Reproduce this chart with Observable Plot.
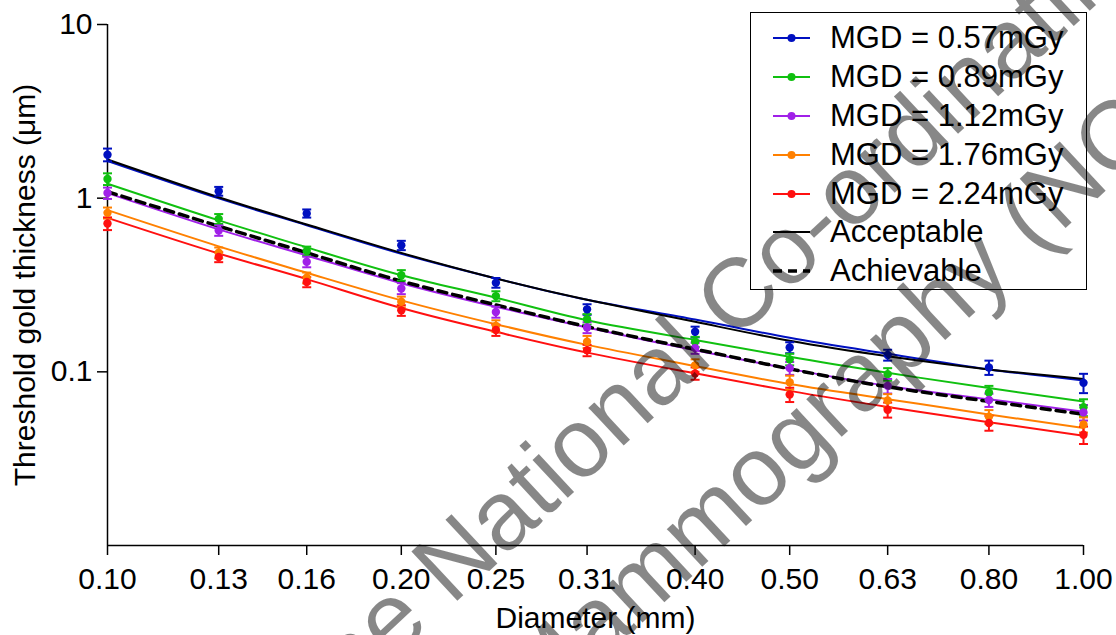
<!DOCTYPE html>
<html>
<head>
<meta charset="utf-8">
<script src="https://cdn.jsdelivr.net/npm/d3@7"></script>
<script src="https://cdn.jsdelivr.net/npm/@observablehq/plot@0.6"></script>
<style>
  body { margin: 0; background: #fff; }
  #wrap { position: relative; width: 1116px; height: 635px; font-family: "Liberation Sans", Arial, sans-serif; }
  #legend { position: absolute; left: 750px; top: 12px; width: 337px; height: 278px; box-sizing: border-box;
            border: 1.5px solid #000; padding-top: 6px; }
  .row { height: 38.8px; display: flex; align-items: center; font-size: 31px; color: #000; }
  .row svg { margin-left: 22px; margin-right: 20px; flex: none; }
  #wm { position: absolute; left: 0; top: 0; pointer-events: none; }
</style>
</head>
<body>
<div id="wrap"></div>
<script>
// ---- data ----
const diameters = [0.10, 0.13, 0.16, 0.20, 0.25, 0.31, 0.40, 0.50, 0.63, 0.80, 1.00];
const yTicks = [10, 1, 0.1];

const seriesNames = ["MGD = 0.57mGy", "MGD = 0.89mGy", "MGD = 1.12mGy", "MGD = 1.76mGy", "MGD = 2.24mGy"];
const seriesColors = ["#0010c0", "#10c010", "#a020e8", "#ff8000", "#ff1010"];

// measured threshold thickness (points)
const pts057 = [1.78, 1.097, 0.817, 0.535, 0.326, 0.229, 0.170, 0.138, 0.125, 0.106, 0.0864];
const pts089 = [1.29, 0.760, 0.496, 0.360, 0.273, 0.201, 0.149, 0.118, 0.097, 0.076, 0.0625];
const pts112 = [1.07, 0.652, 0.430, 0.302, 0.221, 0.180, 0.137, 0.105, 0.083, 0.0688, 0.0584];
const pts176 = [0.823, 0.485, 0.348, 0.253, 0.184, 0.149, 0.109, 0.087, 0.0684, 0.0552, 0.0497];
const pts224 = [0.715, 0.458, 0.329, 0.226, 0.174, 0.133, 0.098, 0.074, 0.0605, 0.0508, 0.0434];

// error bar half-widths
const err057 = [0.15, 0.064, 0.044, 0.033, 0.021, 0.016, 0.012, 0.010, 0.009, 0.010, 0.011];
const err089 = [0.10, 0.050, 0.030, 0.025, 0.018, 0.014, 0.010, 0.009, 0.008, 0.007, 0.007];
const err112 = [0.08, 0.045, 0.030, 0.022, 0.016, 0.013, 0.010, 0.009, 0.008, 0.006, 0.006];
const err176 = [0.06, 0.035, 0.025, 0.018, 0.014, 0.012, 0.009, 0.008, 0.006, 0.005, 0.005];
const err224 = [0.06, 0.030, 0.022, 0.016, 0.013, 0.010, 0.008, 0.007, 0.006, 0.005, 0.005];

// fitted curves
const fit057 = [1.637, 0.997, 0.699, 0.479, 0.345, 0.260, 0.200, 0.157, 0.127, 0.1033, 0.0892];
const fit089 = [1.21, 0.745, 0.521, 0.360, 0.267, 0.198, 0.1527, 0.122, 0.0987, 0.0806, 0.0674];
const fit112 = [1.07, 0.661, 0.468, 0.324, 0.237, 0.180, 0.133, 0.104, 0.083, 0.0695, 0.0589];
const fit176 = [0.853, 0.528, 0.372, 0.258, 0.188, 0.143, 0.108, 0.085, 0.0696, 0.0568, 0.0475];
const fit224 = [0.77, 0.480, 0.342, 0.233, 0.170, 0.129, 0.098, 0.0777, 0.0628, 0.0513, 0.0429];

const acceptable = [1.67, 1.012, 0.706, 0.484, 0.345, 0.260, 0.194, 0.151, 0.123, 0.1033, 0.091];
const achievable = [1.09, 0.690, 0.485, 0.333, 0.243, 0.182, 0.135, 0.104, 0.082, 0.0676, 0.0570];

// ---- tables built from the arrays ----
const ptsAll = [pts057, pts089, pts112, pts176, pts224];
const errAll = [err057, err089, err112, err176, err224];
const fitAll = [fit057, fit089, fit112, fit176, fit224];

const points = [];
const fits = [];
seriesNames.forEach((s, i) => {
  diameters.forEach((d, j) => {
    points.push({series: s, x: d, y: ptsAll[i][j], lo: ptsAll[i][j] - errAll[i][j], hi: ptsAll[i][j] + errAll[i][j]});
    fits.push({series: s, x: d, y: fitAll[i][j]});
  });
});
const accRows = diameters.map((d, j) => ({x: d, y: acceptable[j]}));
const achRows = diameters.map((d, j) => ({x: d, y: achievable[j]}));

const capSymbol = { draw(ctx) { ctx.moveTo(-4.5, 0); ctx.lineTo(4.5, 0); } };

const chart = Plot.plot({
  width: 1116, height: 635,
  marginLeft: 107, marginRight: 33, marginTop: 24, marginBottom: 90,
  style: { fontFamily: "Liberation Sans, Arial, sans-serif", fontSize: "30px", color: "#000", background: "#fff", overflow: "visible" },
  x: { type: "log", domain: [0.1, 1] },
  y: { type: "log", domain: [0.01, 10] },
  color: { domain: seriesNames, range: seriesColors },
  marks: [
    Plot.axisX({ ticks: diameters, tickFormat: d3.format(".2f"), tickSize: 10, tickPadding: 12, strokeWidth: 1.5,
                 label: "Diameter (mm)", labelAnchor: "center", labelOffset: 82, labelArrow: "none" }),
    Plot.axisY({ ticks: yTicks, tickFormat: d => String(d), tickSize: 10, tickPadding: 5, strokeWidth: 1.5,
                 label: "Threshold gold thickness (μm)", labelAnchor: "center", labelOffset: 94, labelArrow: "none" }),
    Plot.ruleX([0.1], { stroke: "#000", strokeWidth: 1.5 }),
    Plot.ruleY([0.01], { stroke: "#000", strokeWidth: 1.5 }),
    Plot.line(fits, { x: "x", y: "y", z: "series", stroke: "series", strokeWidth: 2, curve: "natural" }),
    Plot.line(accRows, { x: "x", y: "y", stroke: "#000", strokeWidth: 2, curve: "natural" }),
    Plot.line(achRows, { x: "x", y: "y", stroke: "#000", strokeWidth: 3.5, strokeDasharray: "9,6", curve: "natural" }),
    Plot.ruleX(points, { x: "x", y1: "lo", y2: "hi", stroke: "series", strokeWidth: 2 }),
    Plot.dot(points, { x: "x", y: "lo", symbol: capSymbol, fill: "none", stroke: "series", strokeWidth: 2 }),
    Plot.dot(points, { x: "x", y: "hi", symbol: capSymbol, fill: "none", stroke: "series", strokeWidth: 2 }),
    Plot.dot(points, { x: "x", y: "y", r: 4.2, fill: "series", stroke: "none" })
  ]
});

const wrap = document.getElementById("wrap");
wrap.appendChild(chart);

// ---- legend ----
const legend = document.createElement("div");
legend.id = "legend";
const legendItems = seriesNames.map((s, i) => ({ label: s, color: seriesColors[i], dot: true, dash: null, w: 2 }))
  .concat([{ label: "Acceptable", color: "#000", dot: false, dash: null, w: 2 },
           { label: "Achievable", color: "#000", dot: false, dash: "9,6", w: 3.5 }]);
legendItems.forEach(it => {
  const row = document.createElement("div");
  row.className = "row";
  row.innerHTML = `<svg width="37" height="20"><line x1="0" x2="37" y1="10" y2="10" stroke="${it.color}" stroke-width="${it.w}" ${it.dash ? `stroke-dasharray="${it.dash}"` : ""}/>${it.dot ? `<circle cx="18.5" cy="10" r="4" fill="${it.color}"/>` : ""}</svg><span>${it.label}</span>`;
  legend.appendChild(row);
});
wrap.appendChild(legend);

// ---- watermark ----
const ns = "http://www.w3.org/2000/svg";
const wm = document.createElementNS(ns, "svg");
wm.setAttribute("id", "wm");
wm.setAttribute("width", 1116);
wm.setAttribute("height", 635);
[["The National Co-ordinating Centre for the Physics of", 308, 740], ["Mammography (NCCPM)", 538, 720]].forEach(([t, x, y]) => {
  const tx = document.createElementNS(ns, "text");
  tx.setAttribute("transform", `translate(${x},${y}) rotate(-43)`);
  tx.setAttribute("font-family", "Liberation Sans, Arial, sans-serif");
  tx.setAttribute("font-size", "98");
  tx.setAttribute("fill", "#000");
  tx.setAttribute("fill-opacity", "0.47");
  tx.textContent = t;
  wm.appendChild(tx);
});
wrap.appendChild(wm);
</script>
</body>
</html>
